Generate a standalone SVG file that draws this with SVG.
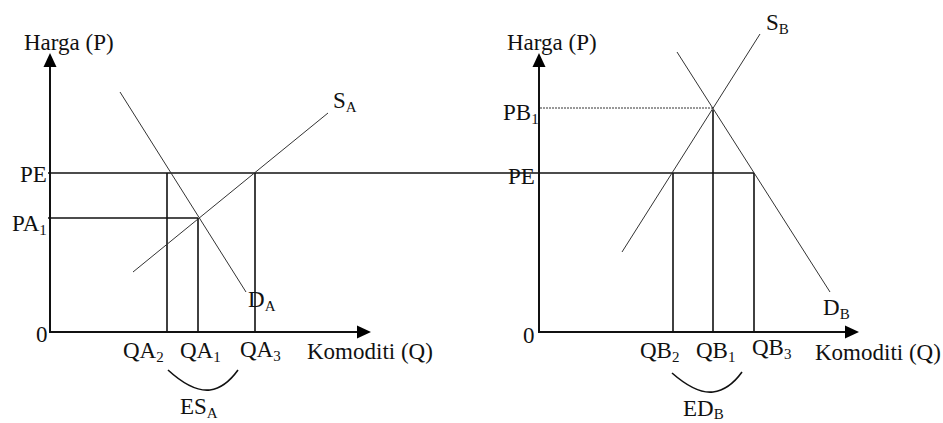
<svg xmlns="http://www.w3.org/2000/svg" width="943" height="423" viewBox="0 0 943 423">
<style>
text{font-family:"Liberation Serif","Times New Roman",serif;font-size:23px;fill:#111}
.sub{font-size:15px}
.ax{stroke:#111;stroke-width:2;fill:none}
.ln{stroke:#111;stroke-width:1.6;fill:none}
.cv{stroke:#333;stroke-width:1;fill:none}
.dt{stroke:#333;stroke-width:1;fill:none;stroke-dasharray:2 1}
.ah{fill:#000}
</style>
<rect width="943" height="423" fill="#fff"/>
<g id="connectors">
<line class="ax" x1="50" y1="66" x2="50" y2="332"/>
<polygon class="ah" points="50,53 43.5,67 56.5,67"/>
<line class="ax" x1="49" y1="332" x2="358" y2="332"/>
<polygon class="ah" points="371,332 357,325.5 357,338.5"/>
<line class="ax" x1="539" y1="66" x2="539" y2="332"/>
<polygon class="ah" points="539,53 532.5,67 545.5,67"/>
<line class="ax" x1="538" y1="332" x2="846" y2="332"/>
<polygon class="ah" points="859,332 845,325.5 845,338.5"/>
<line class="ln" x1="48" y1="173" x2="754" y2="173"/>
<line class="ln" x1="48" y1="218" x2="198" y2="218"/>
<line class="ln" x1="167" y1="173" x2="167" y2="332"/>
<line class="ln" x1="198" y1="218" x2="198" y2="332"/>
<line class="ln" x1="255" y1="173" x2="255" y2="332"/>
<line class="cv" x1="120" y1="92" x2="246" y2="292"/>
<line class="cv" x1="133" y1="272" x2="328" y2="113"/>
<path class="ln" d="M168,370 Q192,392 210,390 Q225,388 238,370"/>
<line class="dt" x1="540" y1="108" x2="714" y2="108"/>
<line class="ln" x1="673" y1="173" x2="673" y2="332"/>
<line class="ln" x1="713" y1="110" x2="713" y2="332"/>
<line class="ln" x1="754" y1="173" x2="754" y2="332"/>
<line class="cv" x1="622" y1="252" x2="760" y2="34"/>
<line class="cv" x1="677" y1="52" x2="830" y2="292"/>
<path class="ln" d="M672,373 Q696,394 713,392 Q729,390 742,372"/>
</g>
<g id="labels-left">
<text x="24" y="50">Harga (P)</text>
<text x="20" y="182">PE</text>
<text x="12" y="231">PA<tspan class="sub" dy="4">1</tspan></text>
<text x="36" y="342">0</text>
<text x="333" y="108">S<tspan class="sub" dy="4">A</tspan></text>
<text x="248" y="307">D<tspan class="sub" dy="4">A</tspan></text>
<text x="123" y="358">QA<tspan class="sub" dy="4">2</tspan></text>
<text x="180" y="358">QA<tspan class="sub" dy="4">1</tspan></text>
<text x="240" y="357">QA<tspan class="sub" dy="4">3</tspan></text>
<text x="307" y="359">Komoditi (Q)</text>
<text x="180" y="414">ES<tspan class="sub" dy="4">A</tspan></text>
</g>
<g id="labels-right">
<text x="507" y="50">Harga (P)</text>
<text x="503" y="120">PB<tspan class="sub" dy="4">1</tspan></text>
<text x="508" y="184">PE</text>
<text x="523" y="343">0</text>
<text x="766" y="30">S<tspan class="sub" dy="4">B</tspan></text>
<text x="823" y="315">D<tspan class="sub" dy="4">B</tspan></text>
<text x="640" y="358">QB<tspan class="sub" dy="4">2</tspan></text>
<text x="696" y="358">QB<tspan class="sub" dy="4">1</tspan></text>
<text x="752" y="355">QB<tspan class="sub" dy="4">3</tspan></text>
<text x="815" y="360">Komoditi (Q)</text>
<text x="683" y="416">ED<tspan class="sub" dy="3">B</tspan></text>
</g>
</svg>
